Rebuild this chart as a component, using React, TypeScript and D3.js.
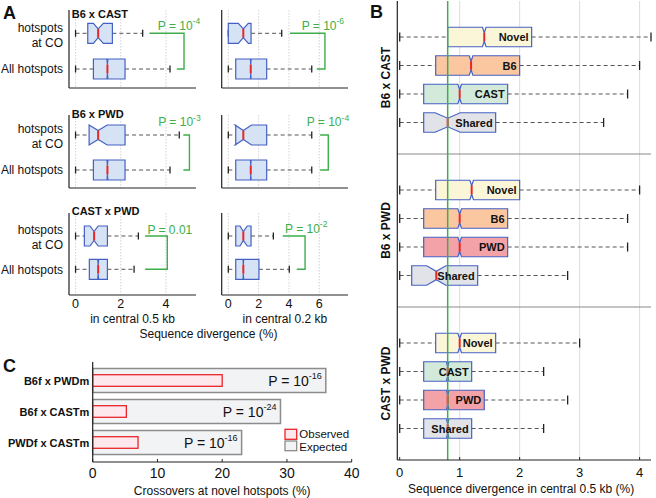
import React from 'react';
import * as d3 from 'd3';

const FONT = '"Liberation Sans", Arial, Helvetica, sans-serif';

// ---------------- Panel A data ----------------
const crossesA = ['B6 x CAST', 'B6 x PWD', 'CAST x PWD'];
const rowsA = ['hotspots\nat CO', 'All hotspots'];
const windowsA = ['in central 0.5 kb', 'in central 0.2 kb'];
const ticks05 = [0, 2, 4];
const ticks02 = [0, 2, 4, 6];
// [whiskerLo, q1, median, q3, whiskerHi, notchLo, notchHi]
const box05CO = [
  [0, 0.54, 1.0, 1.63, 2.97, 0.79, 1.23],
  [0, 0.6, 1.0, 2.19, 4.59, 0.6, 1.4],
  [0, 0.39, 0.82, 1.41, 2.78, 0.64, 1.0],
];
const box05All = [
  [0, 0.79, 1.41, 2.19, 4.18, 1.39, 1.43],
  [0, 0.79, 1.41, 2.19, 4.18, 1.39, 1.43],
  [0, 0.61, 1.0, 1.41, 2.59, 0.98, 1.02],
];
const box02CO = [
  [0, 0, 0.99, 1.5, 3.52, 0.66, 1.32],
  [0, 0.49, 0.99, 2.53, 5.5, 0.45, 1.53],
  [0, 0.49, 0.99, 1.5, 2.97, 0.77, 1.25],
];
const box02All = [
  [0, 0.49, 1.48, 2.53, 5.5, 1.46, 1.5],
  [0, 0.49, 1.48, 2.53, 5.5, 1.46, 1.5],
  [0, 0.49, 0.99, 2.02, 4.02, 0.97, 1.01],
];
const pval05 = ['10^-4', '10^-3', '0.01'];
const pval02 = ['10^-6', '10^-4', '10^-2'];

// ---------------- Panel B data ----------------
const groupsB = ['B6 x CAST', 'B6 x PWD', 'CAST x PWD'];
const catsB = [
  ['Novel', 'B6', 'CAST', 'Shared'],
  ['Novel', 'B6', 'PWD', 'Shared'],
  ['Novel', 'CAST', 'PWD', 'Shared'],
];
const statsB = [
  [[0, 0.8, 1.41, 2.2, 4.19, 1.38, 1.44], [0, 0.6, 1.19, 2.0, 4.0, 1.16, 1.22], [0, 0.4, 1.0, 1.8, 3.8, 0.97, 1.03], [0, 0.4, 0.8, 1.6, 3.4, 0.59, 1.01]],
  [[0, 0.6, 1.2, 2.0, 4.0, 1.17, 1.23], [0, 0.4, 1.0, 1.8, 3.8, 0.97, 1.03], [0, 0.4, 1.0, 1.8, 3.8, 0.97, 1.03], [0, 0.2, 0.61, 1.3, 2.8, 0.45, 0.77]],
  [[0, 0.6, 1.0, 1.6, 3.0, 0.97, 1.03], [0, 0.4, 0.8, 1.2, 2.4, 0.78, 0.82], [0, 0.4, 0.8, 1.41, 2.8, 0.78, 0.82], [0, 0.4, 0.8, 1.2, 2.4, 0.78, 0.82]],
];
const refLineB = 0.8;
const ticksB = [0, 1, 2, 3, 4];

// ---------------- Panel C data ----------------
const crossesC = ['B6f x PWDm', 'B6f x CASTm', 'PWDf x CASTm'];
const expectedC = [36, 29, 23];
const observedC = [20, 5.2, 7];
const pvalC = ['10^-16', '10^-24', '10^-16'];
const ticksC = [0, 10, 20, 30, 40];
const legendC = ['Observed', 'Expected'];

// ---------------- Layout / style ----------------
const layoutA = {
  axTop: [10, 115, 213],
  axBottom: [88, 188, 295],
  row1: [33.3, 135, 236],
  row2: [69, 170, 269.3],
  titleBase: [18.3, 118.3, 215],
};
const xRangeA = [[69, 196], [221.7, 348]];
const xDomainA = [[-0.29, 5.33], [-0.435, 7.89]];
// bracket: [topStart, vertical x, bottomStart] in data units
const bracketA = [
  [[3.27, 4.8, 4.48], [4.77, 5.04, 4.77], [3.08, 4.06, 3.08]],
  [[4.07, 6.37, 5.83], [6.05, 6.59, 6.05], [3.59, 5.06, 4.51]],
];
const pTextXA = [[3.64, 3.66, 3.18], [4.84, 5.17, 3.74]];
const pBaseA = [[29.5, 126, 234.3], [29.5, 126, 232.6]];

const GREEN = '#3dae4a';
const RED = '#e8262a';
const BLUE = '#4560c4';
const fillB: Record<string, string> = {
  Novel: '#fcf6d9',
  B6: '#fbc7a1',
  CAST: '#d3eadb',
  PWD: '#f3a3a7',
  Shared: '#e1e3e8',
};

function PText({ p, size, sup }: { p: string; size: number; sup: number }) {
  const [m, e] = p.split('^');
  return (
    <>
      {'P = ' + m}
      {e ? (
        <tspan dy={-size * 0.45} fontSize={sup}>
          {e}
        </tspan>
      ) : null}
    </>
  );
}

function NotchBox({
  s, x, y, h, fill, capH,
}: { s: number[]; x: (v: number) => number; y: number; h: number; fill: string; capH: number }) {
  const [lo, q1, med, q3, hi, nl, nh] = s;
  const t = y - h / 2;
  const b = y + h / 2;
  const d = h * 0.28;
  const path =
    `M${x(q1)},${t}L${x(nl)},${t}L${x(med)},${t + d}L${x(nh)},${t}L${x(q3)},${t}` +
    `L${x(q3)},${b}L${x(nh)},${b}L${x(med)},${b - d}L${x(nl)},${b}L${x(q1)},${b}Z`;
  return (
    <g>
      <line x1={x(lo)} x2={x(q1)} y1={y} y2={y} stroke="#555" strokeDasharray="4,3" strokeWidth={1} />
      <line x1={x(q3)} x2={x(hi)} y1={y} y2={y} stroke="#555" strokeDasharray="4,3" strokeWidth={1} />
      <line x1={x(lo)} x2={x(lo)} y1={y - capH / 2} y2={y + capH / 2} stroke="#222" strokeWidth={1.3} />
      <line x1={x(hi)} x2={x(hi)} y1={y - capH / 2} y2={y + capH / 2} stroke="#222" strokeWidth={1.3} />
      <path d={path} fill={fill} stroke={BLUE} strokeWidth={1.2} strokeLinejoin="miter" />
      <line x1={x(med)} x2={x(med)} y1={t + d} y2={b - d} stroke={RED} strokeWidth={2} />
    </g>
  );
}

function PanelA() {
  const items: React.ReactNode[] = [];
  windowsA.forEach((win, c) => {
    const x = d3.scaleLinear().domain(xDomainA[c]).range(xRangeA[c]);
    const ticks = c === 0 ? ticks05 : ticks02;
    const sCO = c === 0 ? box05CO : box02CO;
    const sAll = c === 0 ? box05All : box02All;
    const pv = c === 0 ? pval05 : pval02;
    crossesA.forEach((cross, r) => {
      const top = layoutA.axTop[r];
      const bot = layoutA.axBottom[r];
      const y = d3.scaleLinear().domain([1, 2]).range([layoutA.row1[r], layoutA.row2[r]]);
      const [x0, x1] = xRangeA[c];
      const br = bracketA[c][r];
      items.push(
        <g key={`a-${c}-${r}`}>
          {ticks.map((t) => (
            <line key={t} x1={x(t)} x2={x(t)} y1={top} y2={bot} stroke="#c8c8c8" strokeWidth={0.8} strokeDasharray="1.5,1.5" />
          ))}
          <line x1={x0} x2={x0} y1={top} y2={bot} stroke="#222" strokeWidth={1.2} />
          <line x1={x0} x2={x1} y1={bot} y2={bot} stroke="#222" strokeWidth={1.2} />
          <NotchBox s={sCO[r]} x={x} y={y(1)} h={20} fill="#d5e3f5" capH={7} />
          <NotchBox s={sAll[r]} x={x} y={y(2)} h={20} fill="#d5e3f5" capH={7} />
          <polyline
            points={`${x(br[0])},${y(1)} ${x(br[1])},${y(1)} ${x(br[1])},${y(2)} ${x(br[2])},${y(2)}`}
            fill="none"
            stroke={GREEN}
            strokeWidth={1.4}
          />
          <text x={x(pTextXA[c][r])} y={pBaseA[c][r]} fontSize={12} fill={GREEN}>
            <PText p={pv[r]} size={12} sup={8.5} />
          </text>
          {c === 0 ? (
            <>
              <text x={71.7} y={layoutA.titleBase[r]} fontSize={11} fontWeight="bold" fill="#111">
                {cross}
              </text>
              {rowsA[0].split('\n').map((ln, i) => (
                <text key={ln} x={63} y={y(1) - 1.7 + i * 15} fontSize={12} textAnchor="end" fill="#111">
                  {ln}
                </text>
              ))}
              <text x={63} y={y(2) + 4.3} fontSize={12} textAnchor="end" fill="#111">
                {rowsA[1]}
              </text>
            </>
          ) : null}
          {r === crossesA.length - 1 ? (
            <>
              {ticks.map((t) => (
                <text key={t} x={x(t)} y={307.5} fontSize={12.5} textAnchor="middle" fill="#111">
                  {t}
                </text>
              ))}
              <text x={(x0 + x1) / 2} y={322.5} fontSize={12} textAnchor="middle" fill="#111">
                {win}
              </text>
            </>
          ) : null}
        </g>
      );
    });
  });
  return (
    <g>
      <text x={3} y={19} fontSize={18} fontWeight="bold" fill="#111">A</text>
      {items}
      <text x={(xRangeA[0][0] + xRangeA[1][1]) / 2} y={338} fontSize={12} textAnchor="middle" fill="#111">
        Sequence divergence (%)
      </text>
    </g>
  );
}

function PanelB() {
  const x = d3.scaleLinear().domain([-0.04, 4.19]).range([397.3, 651]);
  const g = d3.scaleBand().domain(groupsB).range([1, 460]);
  const row = d3.scaleLinear().domain([0, 3]).range([36, 121.5]);
  const x0 = 397.3;
  const x1 = 651;
  return (
    <g>
      <text x={370} y={18} fontSize={18} fontWeight="bold" fill="#111">B</text>
      {ticksB.slice(1).map((t) => (
        <line key={t} x1={x(t)} x2={x(t)} y1={1} y2={460} stroke="#dcdcdc" strokeWidth={1} />
      ))}
      {groupsB.slice(1).map((gr) => (
        <line key={gr} x1={x0} x2={x1} y1={g(gr)!} y2={g(gr)!} stroke="#8a8a8a" strokeWidth={1.2} />
      ))}
      {groupsB.map((gr, gi) => (
        <g key={gr}>
          {catsB[gi].map((cat, i) => (
            <NotchBox key={cat} s={statsB[gi][i]} x={x} y={g(gr)! + row(i)} h={19.5} fill={fillB[cat]} capH={9} />
          ))}
        </g>
      ))}
      <line x1={x(refLineB)} x2={x(refLineB)} y1={1} y2={460} stroke={GREEN} strokeWidth={1.5} />
      {groupsB.map((gr, gi) => (
        <g key={gr + '-t'}>
          {catsB[gi].map((cat, i) => (
            <text key={cat} x={x(statsB[gi][i][3]) - 3} y={g(gr)! + row(i) + 4} fontSize={11} fontWeight="bold" textAnchor="end" fill="#111">
              {cat}
            </text>
          ))}
          <text
            transform={`translate(390,${g(gr)! + g.bandwidth() / 2}) rotate(-90)`}
            fontSize={12}
            fontWeight="bold"
            textAnchor="middle"
            fill="#111"
          >
            {gr}
          </text>
        </g>
      ))}
      <line x1={x0} x2={x0} y1={1} y2={460} stroke="#222" strokeWidth={1.2} />
      <line x1={x0} x2={x1} y1={460} y2={460} stroke="#222" strokeWidth={1.2} />
      {ticksB.map((t) => (
        <g key={t}>
          <line x1={x(t)} x2={x(t)} y1={460} y2={457} stroke="#222" strokeWidth={1} />
          <text x={x(t)} y={477} fontSize={13} textAnchor="middle" fill="#111">{t}</text>
        </g>
      ))}
      <text x={(x0 + x1) / 2 - 3} y={493} fontSize={12} textAnchor="middle" fill="#111">
        Sequence divergence in central 0.5 kb (%)
      </text>
    </g>
  );
}

function PanelC() {
  const x = d3.scaleLinear().domain([0, 40]).range([92.7, 351.7]);
  const y = d3.scalePoint().domain(crossesC).range([380.5, 442.5]);
  return (
    <g>
      <text x={3} y={371.5} fontSize={18} fontWeight="bold" fill="#111">C</text>
      {crossesC.map((c, i) => (
        <g key={c}>
          <rect x={x(0)} y={y(c)! - 12} width={x(expectedC[i]) - x(0)} height={24} fill="#f2f3f5" stroke="#8c8c8c" strokeWidth={1.5} />
          <rect x={x(0)} y={y(c)! - 5.8} width={x(observedC[i]) - x(0)} height={11.6} fill="#fde8ed" stroke={RED} strokeWidth={1.3} />
          <text x={x(expectedC[i]) - 4} y={y(c)! + 5} fontSize={14} textAnchor="end" fill="#111">
            <PText p={pvalC[i]} size={14} sup={9} />
          </text>
          <text x={89.3} y={y(c)! + 4} fontSize={11} fontWeight="bold" textAnchor="end" fill="#111">
            {c}
          </text>
        </g>
      ))}
      <rect x={285} y={429.3} width={11.7} height={10} fill="#fde8ed" stroke={RED} strokeWidth={1.3} />
      <text x={299.3} y={438.2} fontSize={11.5} fill="#111">{legendC[0]}</text>
      <rect x={285} y={441} width={11.7} height={9.7} fill="#f2f3f5" stroke="#8c8c8c" strokeWidth={1.3} />
      <text x={299.3} y={451.4} fontSize={11.5} fill="#111">{legendC[1]}</text>
      <line x1={x(0)} x2={x(0)} y1={362} y2={462} stroke="#222" strokeWidth={1.2} />
      <line x1={x(0)} x2={x(40)} y1={462} y2={462} stroke="#222" strokeWidth={1.2} />
      {ticksC.map((t) => (
        <g key={t}>
          <line x1={x(t)} x2={x(t)} y1={462} y2={459} stroke="#222" strokeWidth={1} />
          <text x={x(t)} y={478} fontSize={14} textAnchor="middle" fill="#111">{t}</text>
        </g>
      ))}
      <text x={(x(0) + x(40)) / 2} y={494.5} fontSize={12} textAnchor="middle" fill="#111">
        Crossovers at novel hotspots (%)
      </text>
    </g>
  );
}

export default function App() {
  return (
    <svg
      width={656}
      height={498}
      viewBox="0 0 656 498"
      style={{ position: 'absolute', left: 0, top: 0, background: '#fff' }}
      fontFamily={FONT}
    >
      <rect width={656} height={498} fill="#fff" />
      <PanelA />
      <PanelB />
      <PanelC />
    </svg>
  );
}
